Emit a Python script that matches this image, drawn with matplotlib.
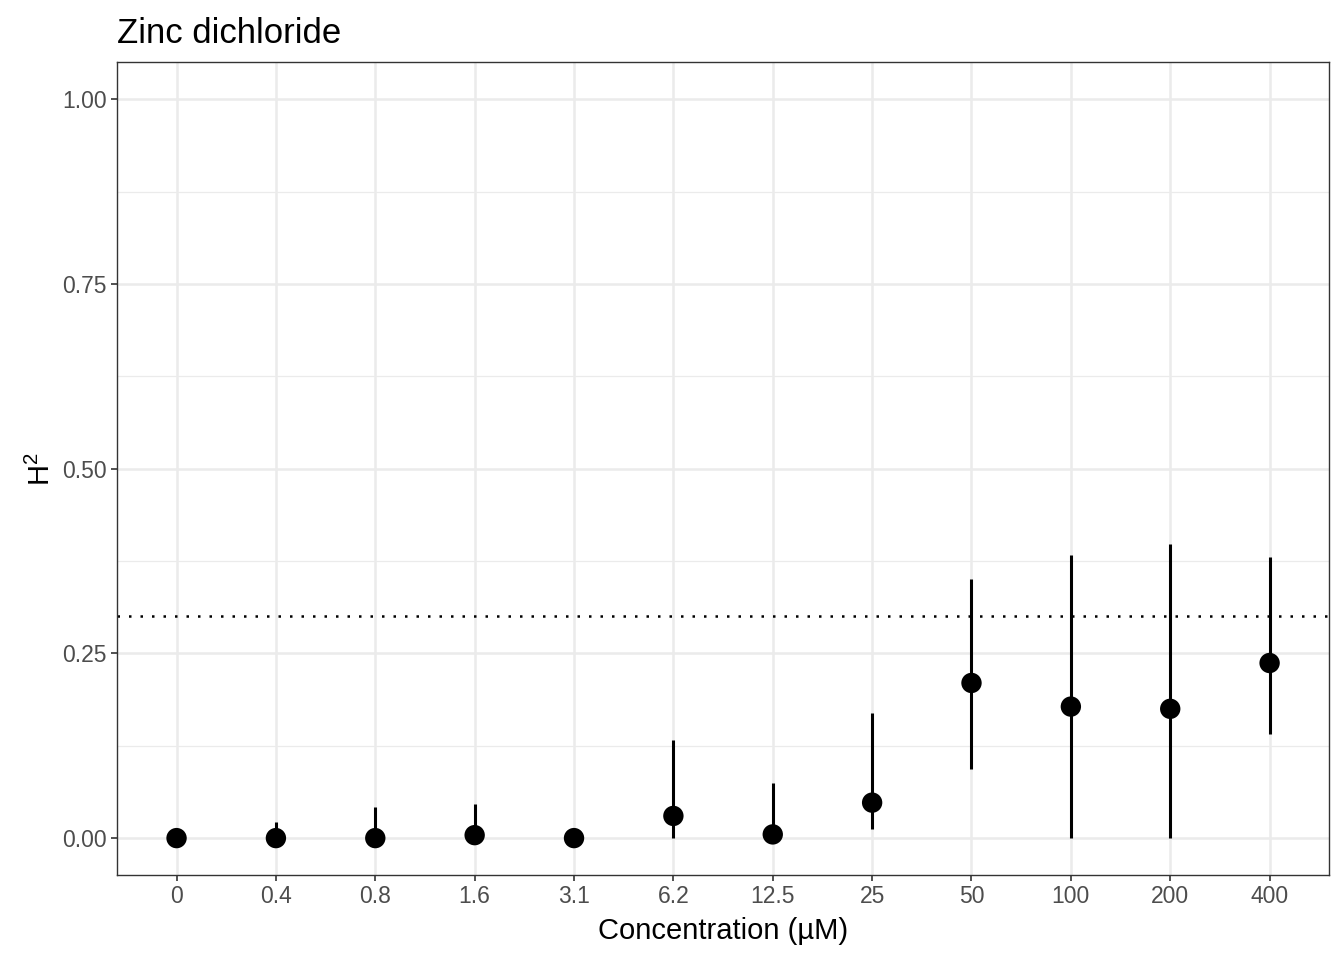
import numpy as np
import matplotlib.pyplot as plt

plt.rcParams['font.family'] = ['Liberation Sans', 'DejaVu Sans']
plt.rcParams['mathtext.fontset'] = 'custom'
plt.rcParams['mathtext.rm'] = 'Liberation Sans'
plt.rcParams['mathtext.it'] = 'Liberation Sans'

concentrations = ['0', '0.4', '0.8', '1.6', '3.1', '6.2', '12.5', '25', '50', '100', '200', '400']
h2 = [0.0, 0.0, 0.0, 0.004, 0.0, 0.030, 0.005, 0.048, 0.210, 0.178, 0.175, 0.237]
lower = [0.0, 0.0, 0.0, 0.0, 0.0, 0.0, 0.0, 0.012, 0.093, 0.0, 0.0, 0.141]
upper = [0.0, 0.022, 0.042, 0.046, 0.012, 0.133, 0.075, 0.169, 0.351, 0.383, 0.398, 0.381]
threshold = 0.3

x = np.arange(len(concentrations))

fig = plt.figure(figsize=(13.44, 9.6), dpi=100)
ax = fig.add_axes([0.087, 0.0885, 0.902, 0.8465])

# grid
for y in [0.125, 0.375, 0.625, 0.875]:
    ax.axhline(y, color='#EBEBEB', lw=0.9, zorder=0)
for y in [0, 0.25, 0.5, 0.75, 1.0]:
    ax.axhline(y, color='#EBEBEB', lw=1.8, zorder=0)
for xi in x:
    ax.axvline(xi, color='#EBEBEB', lw=1.8, zorder=0)

ax.axhline(threshold, color='black', lw=1.8, linestyle=(0, (1.0, 3.6)), zorder=1)

ax.vlines(x, lower, upper, color='black', lw=2.2, zorder=2)
ax.scatter(x, h2, s=215, color='black', zorder=3, edgecolors='none')

ax.set_xlim(-0.6, len(concentrations) - 0.4)
ax.set_ylim(-0.05, 1.05)
ax.set_xticks(x)
ax.set_xticklabels(concentrations)
ax.set_yticks([0, 0.25, 0.5, 0.75, 1.0])
ax.set_yticklabels(['0.00', '0.25', '0.50', '0.75', '1.00'])
ax.tick_params(colors='#333333', labelcolor='#4D4D4D', labelsize=16.5, length=4.5, width=1.2, pad=3)

for s in ax.spines.values():
    s.set_color('#333333')
    s.set_linewidth(1.0)

ax.set_xlabel('Concentration (µM)', fontsize=21, labelpad=6)
ax.set_ylabel('H$^2$', fontsize=21, labelpad=4)
ax.set_title('Zinc dichloride', fontsize=25, loc='left', pad=14)

fig.savefig('out.png', dpi=100)
